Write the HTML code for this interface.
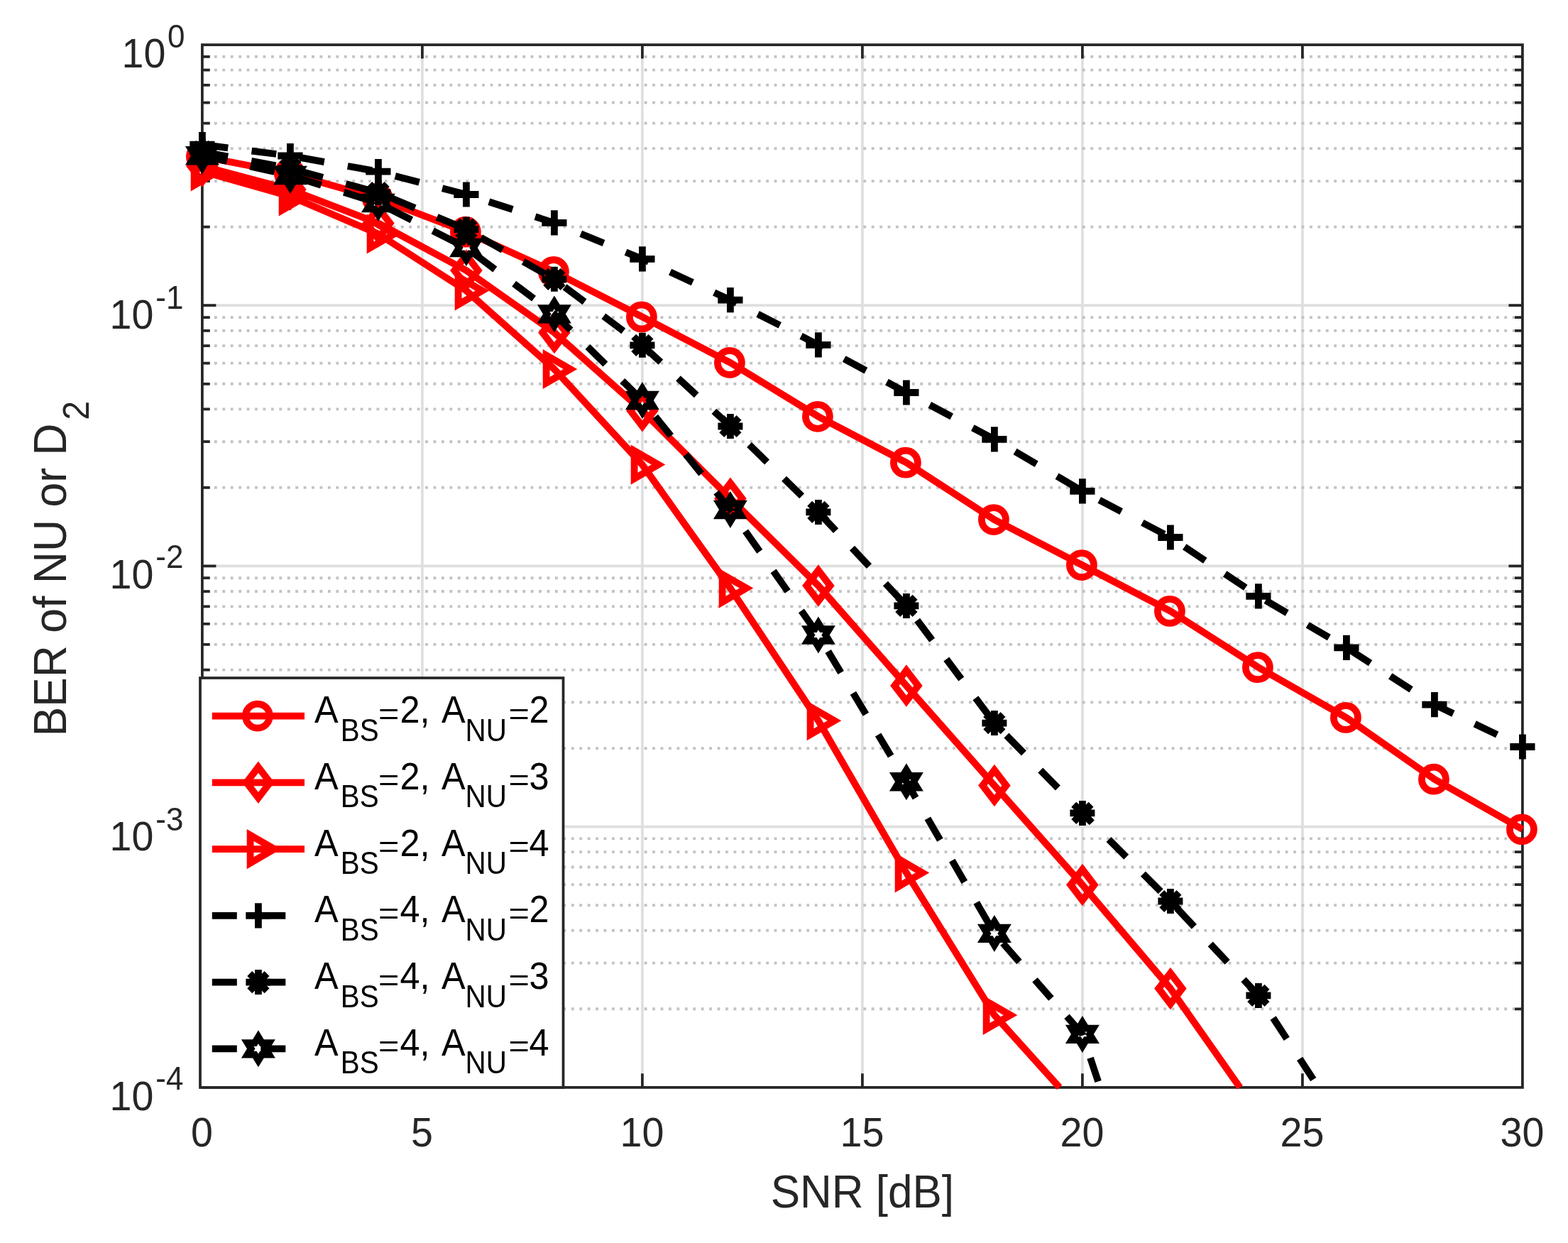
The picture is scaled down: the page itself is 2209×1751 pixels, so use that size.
<!DOCTYPE html><html><head><meta charset="utf-8"><title>BER vs SNR</title><style>html,body{margin:0;padding:0;background:#fff;overflow:hidden}svg{display:block}</style></head><body>
<svg xmlns="http://www.w3.org/2000/svg" width="2209" height="1751" viewBox="0 0 2209 1751" font-family="'Liberation Sans', Arial, Helvetica, sans-serif">
<rect width="2209" height="1751" fill="#fff"/>
<path d="M594.9 63.05V1531.8M904.9 63.05V1531.8M1214.9 63.05V1531.8M1524.9 63.05V1531.8M1834.9 63.05V1531.8M284.9 430.24H2144.9M284.9 797.42H2144.9M284.9 1164.61H2144.9" stroke="#dfdfdf" stroke-width="3.75" fill="none"/>
<path d="M284.9 319.7H2144.9M284.9 255.04H2144.9M284.9 209.17H2144.9M284.9 173.58H2144.9M284.9 144.51H2144.9M284.9 119.93H2144.9M284.9 98.63H2144.9M284.9 79.85H2144.9M284.9 686.89H2144.9M284.9 622.23H2144.9M284.9 576.36H2144.9M284.9 540.77H2144.9M284.9 511.7H2144.9M284.9 487.12H2144.9M284.9 465.82H2144.9M284.9 447.04H2144.9M284.9 1054.08H2144.9M284.9 989.42H2144.9M284.9 943.54H2144.9M284.9 907.96H2144.9M284.9 878.89H2144.9M284.9 854.3H2144.9M284.9 833.01H2144.9M284.9 814.23H2144.9M284.9 1421.27H2144.9M284.9 1356.61H2144.9M284.9 1310.73H2144.9M284.9 1275.15H2144.9M284.9 1246.07H2144.9M284.9 1221.49H2144.9M284.9 1200.2H2144.9M284.9 1181.41H2144.9" stroke="#c2c2c2" stroke-width="3.8" stroke-dasharray="3.8 7.63" stroke-dashoffset="5.83" fill="none"/>
<path d="M284.9 63.05H2144.9V1531.8H284.9Z" stroke="#262626" stroke-width="3.75" fill="none" stroke-linejoin="miter"/>
<path d="M594.9 1531.8V1512.3M594.9 63.05V82.55M904.9 1531.8V1512.3M904.9 63.05V82.55M1214.9 1531.8V1512.3M1214.9 63.05V82.55M1524.9 1531.8V1512.3M1524.9 63.05V82.55M1834.9 1531.8V1512.3M1834.9 63.05V82.55M284.9 430.24H304.4M2144.9 430.24H2125.4M284.9 797.42H304.4M2144.9 797.42H2125.4M284.9 1164.61H304.4M2144.9 1164.61H2125.4M284.9 319.7H295.8M2144.9 319.7H2134M284.9 255.04H295.8M2144.9 255.04H2134M284.9 209.17H295.8M2144.9 209.17H2134M284.9 173.58H295.8M2144.9 173.58H2134M284.9 144.51H295.8M2144.9 144.51H2134M284.9 119.93H295.8M2144.9 119.93H2134M284.9 98.63H295.8M2144.9 98.63H2134M284.9 79.85H295.8M2144.9 79.85H2134M284.9 686.89H295.8M2144.9 686.89H2134M284.9 622.23H295.8M2144.9 622.23H2134M284.9 576.36H295.8M2144.9 576.36H2134M284.9 540.77H295.8M2144.9 540.77H2134M284.9 511.7H295.8M2144.9 511.7H2134M284.9 487.12H295.8M2144.9 487.12H2134M284.9 465.82H295.8M2144.9 465.82H2134M284.9 447.04H295.8M2144.9 447.04H2134M284.9 1054.08H295.8M2144.9 1054.08H2134M284.9 989.42H295.8M2144.9 989.42H2134M284.9 943.54H295.8M2144.9 943.54H2134M284.9 907.96H295.8M2144.9 907.96H2134M284.9 878.89H295.8M2144.9 878.89H2134M284.9 854.3H295.8M2144.9 854.3H2134M284.9 833.01H295.8M2144.9 833.01H2134M284.9 814.23H295.8M2144.9 814.23H2134M284.9 1421.27H295.8M2144.9 1421.27H2134M284.9 1356.61H295.8M2144.9 1356.61H2134M284.9 1310.73H295.8M2144.9 1310.73H2134M284.9 1275.15H295.8M2144.9 1275.15H2134M284.9 1246.07H295.8M2144.9 1246.07H2134M284.9 1221.49H295.8M2144.9 1221.49H2134M284.9 1200.2H295.8M2144.9 1200.2H2134M284.9 1181.41H295.8M2144.9 1181.41H2134" stroke="#262626" stroke-width="3.75" fill="none" stroke-linecap="butt"/>
<text transform="translate(284.4 1615.2) scale(1 1.045)" font-size="55.6" fill="#262626" text-anchor="middle">0</text>
<text transform="translate(594.4 1615.2) scale(1 1.045)" font-size="55.6" fill="#262626" text-anchor="middle">5</text>
<text transform="translate(904.4 1615.2) scale(1 1.045)" font-size="55.6" fill="#262626" text-anchor="middle">10</text>
<text transform="translate(1214.4 1615.2) scale(1 1.045)" font-size="55.6" fill="#262626" text-anchor="middle">15</text>
<text transform="translate(1524.4 1615.2) scale(1 1.045)" font-size="55.6" fill="#262626" text-anchor="middle">20</text>
<text transform="translate(1834.4 1615.2) scale(1 1.045)" font-size="55.6" fill="#262626" text-anchor="middle">25</text>
<text transform="translate(2144.4 1615.2) scale(1 1.045)" font-size="55.6" fill="#262626" text-anchor="middle">30</text>
<text transform="translate(171.5 94.9) scale(1 1.045)" font-size="55.6" fill="#262626">10</text>
<text transform="translate(236.1 66.5) scale(1 1.045)" font-size="44" fill="#262626">0</text>
<text transform="translate(154.55 462.9) scale(1 1.045)" font-size="55.6" fill="#262626">10</text>
<text transform="translate(219.3 434.5) scale(1 1.045)" font-size="44" fill="#262626">-1</text>
<text transform="translate(154.55 828.82) scale(1 1.045)" font-size="55.6" fill="#262626">10</text>
<text transform="translate(219.3 800.42) scale(1 1.045)" font-size="44" fill="#262626">-2</text>
<text transform="translate(154.55 1197.91) scale(1 1.045)" font-size="55.6" fill="#262626">10</text>
<text transform="translate(219.3 1169.51) scale(1 1.045)" font-size="44" fill="#262626">-3</text>
<text transform="translate(154.55 1563.8) scale(1 1.045)" font-size="55.6" fill="#262626">10</text>
<text transform="translate(219.3 1535.4) scale(1 1.045)" font-size="44" fill="#262626">-4</text>
<text transform="translate(1214.9 1700.8) scale(1 1.05)" font-size="62" fill="#262626" text-anchor="middle">SNR [dB]</text>
<g transform="translate(93.3 1037.6) rotate(-90)"><text transform="translate(0 0) scale(1 1.05)" font-size="62.5" fill="#262626">BER of NU or D</text></g>
<g transform="translate(124.9 591.7) rotate(-90)"><text transform="translate(0 0) scale(1 1.05)" font-size="48.5" fill="#262626">2</text></g>
<polyline points="284.9,220.5 408.9,244.5 532.9,279.5 656.9,326.7 780.9,383 904.9,446.4 1028.9,510.9 1152.9,586.8 1276.9,651.7 1400.9,732.1 1524.9,796.1 1648.9,860.9 1772.9,940.2 1896.9,1010.9 2020.9,1097.7 2144.9,1168.3" fill="none" stroke="#ff0000" stroke-width="9.8" stroke-linejoin="round" stroke-linecap="butt"/>
<g><circle cx="283.9" cy="220.5" r="17.0" fill="none" stroke="#ff0000" stroke-width="9.8"/><circle cx="407.9" cy="244.5" r="17.0" fill="none" stroke="#ff0000" stroke-width="9.8"/><circle cx="531.9" cy="279.5" r="17.0" fill="none" stroke="#ff0000" stroke-width="9.8"/><circle cx="655.9" cy="326.7" r="17.0" fill="none" stroke="#ff0000" stroke-width="9.8"/><circle cx="779.9" cy="383" r="17.0" fill="none" stroke="#ff0000" stroke-width="9.8"/><circle cx="903.9" cy="446.4" r="17.0" fill="none" stroke="#ff0000" stroke-width="9.8"/><circle cx="1027.9" cy="510.9" r="17.0" fill="none" stroke="#ff0000" stroke-width="9.8"/><circle cx="1151.9" cy="586.8" r="17.0" fill="none" stroke="#ff0000" stroke-width="9.8"/><circle cx="1275.9" cy="651.7" r="17.0" fill="none" stroke="#ff0000" stroke-width="9.8"/><circle cx="1399.9" cy="732.1" r="17.0" fill="none" stroke="#ff0000" stroke-width="9.8"/><circle cx="1523.9" cy="796.1" r="17.0" fill="none" stroke="#ff0000" stroke-width="9.8"/><circle cx="1647.9" cy="860.9" r="17.0" fill="none" stroke="#ff0000" stroke-width="9.8"/><circle cx="1771.9" cy="940.2" r="17.0" fill="none" stroke="#ff0000" stroke-width="9.8"/><circle cx="1895.9" cy="1010.9" r="17.0" fill="none" stroke="#ff0000" stroke-width="9.8"/><circle cx="2019.9" cy="1097.7" r="17.0" fill="none" stroke="#ff0000" stroke-width="9.8"/><circle cx="2143.9" cy="1168.3" r="17.0" fill="none" stroke="#ff0000" stroke-width="9.8"/></g>
<polyline points="284.9,234 408.9,267 532.9,314.4 656.9,381 780.9,468.5 904.9,578.7 1028.9,702.3 1152.9,825.1 1276.9,966 1400.9,1106.4 1524.9,1246.5 1648.9,1392.5 1746.71,1531.8" fill="none" stroke="#ff0000" stroke-width="9.8" stroke-linejoin="round" stroke-linecap="butt"/>
<g><path d="M284.9 212.3L301.5 234L284.9 255.7L268.3 234Z" fill="none" stroke="#ff0000" stroke-width="9.8" stroke-miterlimit="10"/><path d="M408.9 245.3L425.5 267L408.9 288.7L392.3 267Z" fill="none" stroke="#ff0000" stroke-width="9.8" stroke-miterlimit="10"/><path d="M532.9 292.7L549.5 314.4L532.9 336.1L516.3 314.4Z" fill="none" stroke="#ff0000" stroke-width="9.8" stroke-miterlimit="10"/><path d="M656.9 359.3L673.5 381L656.9 402.7L640.3 381Z" fill="none" stroke="#ff0000" stroke-width="9.8" stroke-miterlimit="10"/><path d="M780.9 446.8L797.5 468.5L780.9 490.2L764.3 468.5Z" fill="none" stroke="#ff0000" stroke-width="9.8" stroke-miterlimit="10"/><path d="M904.9 557L921.5 578.7L904.9 600.4L888.3 578.7Z" fill="none" stroke="#ff0000" stroke-width="9.8" stroke-miterlimit="10"/><path d="M1028.9 680.6L1045.5 702.3L1028.9 724L1012.3 702.3Z" fill="none" stroke="#ff0000" stroke-width="9.8" stroke-miterlimit="10"/><path d="M1152.9 803.4L1169.5 825.1L1152.9 846.8L1136.3 825.1Z" fill="none" stroke="#ff0000" stroke-width="9.8" stroke-miterlimit="10"/><path d="M1276.9 944.3L1293.5 966L1276.9 987.7L1260.3 966Z" fill="none" stroke="#ff0000" stroke-width="9.8" stroke-miterlimit="10"/><path d="M1400.9 1084.7L1417.5 1106.4L1400.9 1128.1L1384.3 1106.4Z" fill="none" stroke="#ff0000" stroke-width="9.8" stroke-miterlimit="10"/><path d="M1524.9 1224.8L1541.5 1246.5L1524.9 1268.2L1508.3 1246.5Z" fill="none" stroke="#ff0000" stroke-width="9.8" stroke-miterlimit="10"/><path d="M1648.9 1370.8L1665.5 1392.5L1648.9 1414.2L1632.3 1392.5Z" fill="none" stroke="#ff0000" stroke-width="9.8" stroke-miterlimit="10"/></g>
<polyline points="284.9,241.4 408.9,276.5 532.9,329.5 656.9,409.5 780.9,520 904.9,654.6 1028.9,828.6 1152.9,1015.2 1276.9,1229.4 1400.9,1430 1492.57,1531.8" fill="none" stroke="#ff0000" stroke-width="9.8" stroke-linejoin="round" stroke-linecap="butt"/>
<g><path d="M307.5 241.4L273.6 221.83L273.6 260.97Z" fill="none" stroke="#ff0000" stroke-width="9.8" stroke-miterlimit="10"/><path d="M431.5 276.5L397.6 256.93L397.6 296.07Z" fill="none" stroke="#ff0000" stroke-width="9.8" stroke-miterlimit="10"/><path d="M555.5 329.5L521.6 309.93L521.6 349.07Z" fill="none" stroke="#ff0000" stroke-width="9.8" stroke-miterlimit="10"/><path d="M679.5 409.5L645.6 389.93L645.6 429.07Z" fill="none" stroke="#ff0000" stroke-width="9.8" stroke-miterlimit="10"/><path d="M803.5 520L769.6 500.43L769.6 539.57Z" fill="none" stroke="#ff0000" stroke-width="9.8" stroke-miterlimit="10"/><path d="M927.5 654.6L893.6 635.03L893.6 674.17Z" fill="none" stroke="#ff0000" stroke-width="9.8" stroke-miterlimit="10"/><path d="M1051.5 828.6L1017.6 809.03L1017.6 848.17Z" fill="none" stroke="#ff0000" stroke-width="9.8" stroke-miterlimit="10"/><path d="M1175.5 1015.2L1141.6 995.63L1141.6 1034.77Z" fill="none" stroke="#ff0000" stroke-width="9.8" stroke-miterlimit="10"/><path d="M1299.5 1229.4L1265.6 1209.83L1265.6 1248.97Z" fill="none" stroke="#ff0000" stroke-width="9.8" stroke-miterlimit="10"/><path d="M1423.5 1430L1389.6 1410.43L1389.6 1449.57Z" fill="none" stroke="#ff0000" stroke-width="9.8" stroke-miterlimit="10"/></g>
<polyline points="284.9,203.7 408.9,219.5 532.9,241.7 656.9,274 780.9,313.9 904.9,364.8 1028.9,422.7 1152.9,485.8 1276.9,553 1400.9,618.8 1524.9,691.9 1648.9,757 1772.9,839.9 1896.9,912.4 2020.9,992.6 2144.9,1052" fill="none" stroke="#000000" stroke-width="9.8" stroke-linejoin="round" stroke-linecap="butt" stroke-dasharray="35.0 33.5" stroke-dashoffset="66.84"/>
<g><path d="M267.3 203.7H302.5M284.9 186.1V221.3" fill="none" stroke="#000000" stroke-width="9.8"/><path d="M391.3 219.5H426.5M408.9 201.9V237.1" fill="none" stroke="#000000" stroke-width="9.8"/><path d="M515.3 241.7H550.5M532.9 224.1V259.3" fill="none" stroke="#000000" stroke-width="9.8"/><path d="M639.3 274H674.5M656.9 256.4V291.6" fill="none" stroke="#000000" stroke-width="9.8"/><path d="M763.3 313.9H798.5M780.9 296.3V331.5" fill="none" stroke="#000000" stroke-width="9.8"/><path d="M887.3 364.8H922.5M904.9 347.2V382.4" fill="none" stroke="#000000" stroke-width="9.8"/><path d="M1011.3 422.7H1046.5M1028.9 405.1V440.3" fill="none" stroke="#000000" stroke-width="9.8"/><path d="M1135.3 485.8H1170.5M1152.9 468.2V503.4" fill="none" stroke="#000000" stroke-width="9.8"/><path d="M1259.3 553H1294.5M1276.9 535.4V570.6" fill="none" stroke="#000000" stroke-width="9.8"/><path d="M1383.3 618.8H1418.5M1400.9 601.2V636.4" fill="none" stroke="#000000" stroke-width="9.8"/><path d="M1507.3 691.9H1542.5M1524.9 674.3V709.5" fill="none" stroke="#000000" stroke-width="9.8"/><path d="M1631.3 757H1666.5M1648.9 739.4V774.6" fill="none" stroke="#000000" stroke-width="9.8"/><path d="M1755.3 839.9H1790.5M1772.9 822.3V857.5" fill="none" stroke="#000000" stroke-width="9.8"/><path d="M1879.3 912.4H1914.5M1896.9 894.8V930" fill="none" stroke="#000000" stroke-width="9.8"/><path d="M2003.3 992.6H2038.5M2020.9 975V1010.2" fill="none" stroke="#000000" stroke-width="9.8"/><path d="M2127.3 1052H2162.5M2144.9 1034.4V1069.6" fill="none" stroke="#000000" stroke-width="9.8"/></g>
<polyline points="284.9,213.6 408.9,237.3 532.9,271.5 656.9,323 780.9,393.3 904.9,486.3 1028.9,600.5 1152.9,721.4 1276.9,853.4 1400.9,1018.6 1524.9,1145.4 1648.9,1269.5 1772.9,1402.4 1857.53,1531.8" fill="none" stroke="#000000" stroke-width="9.8" stroke-linejoin="round" stroke-linecap="butt" stroke-dasharray="35.0 33.5" stroke-dashoffset="66.53"/>
<g><path d="M267.4 213.6H302.4M284.9 196.1V231.1M272.74 201.44L297.06 225.76M272.74 225.76L297.06 201.44" fill="none" stroke="#000000" stroke-width="9.8"/><path d="M391.4 237.3H426.4M408.9 219.8V254.8M396.74 225.14L421.06 249.46M396.74 249.46L421.06 225.14" fill="none" stroke="#000000" stroke-width="9.8"/><path d="M515.4 271.5H550.4M532.9 254V289M520.74 259.34L545.06 283.66M520.74 283.66L545.06 259.34" fill="none" stroke="#000000" stroke-width="9.8"/><path d="M639.4 323H674.4M656.9 305.5V340.5M644.74 310.84L669.06 335.16M644.74 335.16L669.06 310.84" fill="none" stroke="#000000" stroke-width="9.8"/><path d="M763.4 393.3H798.4M780.9 375.8V410.8M768.74 381.14L793.06 405.46M768.74 405.46L793.06 381.14" fill="none" stroke="#000000" stroke-width="9.8"/><path d="M887.4 486.3H922.4M904.9 468.8V503.8M892.74 474.14L917.06 498.46M892.74 498.46L917.06 474.14" fill="none" stroke="#000000" stroke-width="9.8"/><path d="M1011.4 600.5H1046.4M1028.9 583V618M1016.74 588.34L1041.06 612.66M1016.74 612.66L1041.06 588.34" fill="none" stroke="#000000" stroke-width="9.8"/><path d="M1135.4 721.4H1170.4M1152.9 703.9V738.9M1140.74 709.24L1165.06 733.56M1140.74 733.56L1165.06 709.24" fill="none" stroke="#000000" stroke-width="9.8"/><path d="M1259.4 853.4H1294.4M1276.9 835.9V870.9M1264.74 841.24L1289.06 865.56M1264.74 865.56L1289.06 841.24" fill="none" stroke="#000000" stroke-width="9.8"/><path d="M1383.4 1018.6H1418.4M1400.9 1001.1V1036.1M1388.74 1006.44L1413.06 1030.76M1388.74 1030.76L1413.06 1006.44" fill="none" stroke="#000000" stroke-width="9.8"/><path d="M1507.4 1145.4H1542.4M1524.9 1127.9V1162.9M1512.74 1133.24L1537.06 1157.56M1512.74 1157.56L1537.06 1133.24" fill="none" stroke="#000000" stroke-width="9.8"/><path d="M1631.4 1269.5H1666.4M1648.9 1252V1287M1636.74 1257.34L1661.06 1281.66M1636.74 1281.66L1661.06 1257.34" fill="none" stroke="#000000" stroke-width="9.8"/><path d="M1755.4 1402.4H1790.4M1772.9 1384.9V1419.9M1760.74 1390.24L1785.06 1414.56M1760.74 1414.56L1785.06 1390.24" fill="none" stroke="#000000" stroke-width="9.8"/></g>
<polyline points="284.9,219.2 408.9,247 532.9,286 656.9,349 780.9,442.4 904.9,564 1028.9,718 1152.9,894.5 1276.9,1101.3 1400.9,1314.9 1524.9,1456.9 1549.86,1531.8" fill="none" stroke="#000000" stroke-width="9.8" stroke-linejoin="round" stroke-linecap="butt" stroke-dasharray="35.0 33.5" stroke-dashoffset="67.71"/>
<g><path d="M284.9 202.6L279.82 210.9L269.66 210.9L274.74 219.2L269.66 227.5L279.82 227.5L284.9 235.8L289.98 227.5L300.14 227.5L295.06 219.2L300.14 210.9L289.98 210.9Z" fill="none" stroke="#000000" stroke-width="9.8" stroke-miterlimit="10"/><path d="M408.9 230.4L403.82 238.7L393.66 238.7L398.74 247L393.66 255.3L403.82 255.3L408.9 263.6L413.98 255.3L424.14 255.3L419.06 247L424.14 238.7L413.98 238.7Z" fill="none" stroke="#000000" stroke-width="9.8" stroke-miterlimit="10"/><path d="M532.9 269.4L527.82 277.7L517.66 277.7L522.74 286L517.66 294.3L527.82 294.3L532.9 302.6L537.98 294.3L548.14 294.3L543.06 286L548.14 277.7L537.98 277.7Z" fill="none" stroke="#000000" stroke-width="9.8" stroke-miterlimit="10"/><path d="M656.9 332.4L651.82 340.7L641.66 340.7L646.74 349L641.66 357.3L651.82 357.3L656.9 365.6L661.98 357.3L672.14 357.3L667.06 349L672.14 340.7L661.98 340.7Z" fill="none" stroke="#000000" stroke-width="9.8" stroke-miterlimit="10"/><path d="M780.9 425.8L775.82 434.1L765.66 434.1L770.74 442.4L765.66 450.7L775.82 450.7L780.9 459L785.98 450.7L796.14 450.7L791.06 442.4L796.14 434.1L785.98 434.1Z" fill="none" stroke="#000000" stroke-width="9.8" stroke-miterlimit="10"/><path d="M904.9 547.4L899.82 555.7L889.66 555.7L894.74 564L889.66 572.3L899.82 572.3L904.9 580.6L909.98 572.3L920.14 572.3L915.06 564L920.14 555.7L909.98 555.7Z" fill="none" stroke="#000000" stroke-width="9.8" stroke-miterlimit="10"/><path d="M1028.9 701.4L1023.82 709.7L1013.66 709.7L1018.74 718L1013.66 726.3L1023.82 726.3L1028.9 734.6L1033.98 726.3L1044.14 726.3L1039.06 718L1044.14 709.7L1033.98 709.7Z" fill="none" stroke="#000000" stroke-width="9.8" stroke-miterlimit="10"/><path d="M1152.9 877.9L1147.82 886.2L1137.66 886.2L1142.74 894.5L1137.66 902.8L1147.82 902.8L1152.9 911.1L1157.98 902.8L1168.14 902.8L1163.06 894.5L1168.14 886.2L1157.98 886.2Z" fill="none" stroke="#000000" stroke-width="9.8" stroke-miterlimit="10"/><path d="M1276.9 1084.7L1271.82 1093L1261.66 1093L1266.74 1101.3L1261.66 1109.6L1271.82 1109.6L1276.9 1117.9L1281.98 1109.6L1292.14 1109.6L1287.06 1101.3L1292.14 1093L1281.98 1093Z" fill="none" stroke="#000000" stroke-width="9.8" stroke-miterlimit="10"/><path d="M1400.9 1298.3L1395.82 1306.6L1385.66 1306.6L1390.74 1314.9L1385.66 1323.2L1395.82 1323.2L1400.9 1331.5L1405.98 1323.2L1416.14 1323.2L1411.06 1314.9L1416.14 1306.6L1405.98 1306.6Z" fill="none" stroke="#000000" stroke-width="9.8" stroke-miterlimit="10"/><path d="M1524.9 1440.3L1519.82 1448.6L1509.66 1448.6L1514.74 1456.9L1509.66 1465.2L1519.82 1465.2L1524.9 1473.5L1529.98 1465.2L1540.14 1465.2L1535.06 1456.9L1540.14 1448.6L1529.98 1448.6Z" fill="none" stroke="#000000" stroke-width="9.8" stroke-miterlimit="10"/></g>
<rect x="282" y="955" width="511.5" height="576.9" fill="#fff" stroke="#262626" stroke-width="3.75"/>
<path d="M298.8 1008.6H429" stroke="#ff0000" stroke-width="9.8" fill="none"/>
<circle cx="362.9" cy="1008.6" r="17.0" fill="none" stroke="#ff0000" stroke-width="9.8"/>
<text transform="translate(443 1018.1) scale(1 1.06)" font-size="50.4" fill="#000">A</text>
<text transform="translate(479.8 1043.5) scale(1 1.08)" font-size="40.4" fill="#000">BS</text>
<text transform="translate(533 1019.7) scale(1 0.83)" font-size="50.4" fill="#000">=</text>
<text transform="translate(563.6 1018.1) scale(1 1.06)" font-size="50.4" fill="#000">2,</text>
<text transform="translate(622 1018.1) scale(1 1.06)" font-size="50.4" fill="#000">A</text>
<text transform="translate(655.5 1043.5) scale(1 1.08)" font-size="40.4" fill="#000">NU</text>
<text transform="translate(716.4 1019.7) scale(1 0.83)" font-size="50.4" fill="#000">=</text>
<text transform="translate(745.5 1018.1) scale(1 1.06)" font-size="50.4" fill="#000">2</text>
<path d="M298.8 1102.35H429" stroke="#ff0000" stroke-width="9.8" fill="none"/>
<path d="M363.9 1080.65L380.5 1102.35L363.9 1124.05L347.3 1102.35Z" fill="none" stroke="#ff0000" stroke-width="9.8" stroke-miterlimit="10"/>
<text transform="translate(443 1111.85) scale(1 1.06)" font-size="50.4" fill="#000">A</text>
<text transform="translate(479.8 1137.25) scale(1 1.08)" font-size="40.4" fill="#000">BS</text>
<text transform="translate(533 1113.45) scale(1 0.83)" font-size="50.4" fill="#000">=</text>
<text transform="translate(563.6 1111.85) scale(1 1.06)" font-size="50.4" fill="#000">2,</text>
<text transform="translate(622 1111.85) scale(1 1.06)" font-size="50.4" fill="#000">A</text>
<text transform="translate(655.5 1137.25) scale(1 1.08)" font-size="40.4" fill="#000">NU</text>
<text transform="translate(716.4 1113.45) scale(1 0.83)" font-size="50.4" fill="#000">=</text>
<text transform="translate(745.5 1111.85) scale(1 1.06)" font-size="50.4" fill="#000">3</text>
<path d="M298.8 1196.1H429" stroke="#ff0000" stroke-width="9.8" fill="none"/>
<path d="M386.5 1196.1L352.6 1176.53L352.6 1215.67Z" fill="none" stroke="#ff0000" stroke-width="9.8" stroke-miterlimit="10"/>
<text transform="translate(443 1205.6) scale(1 1.06)" font-size="50.4" fill="#000">A</text>
<text transform="translate(479.8 1231) scale(1 1.08)" font-size="40.4" fill="#000">BS</text>
<text transform="translate(533 1207.2) scale(1 0.83)" font-size="50.4" fill="#000">=</text>
<text transform="translate(563.6 1205.6) scale(1 1.06)" font-size="50.4" fill="#000">2,</text>
<text transform="translate(622 1205.6) scale(1 1.06)" font-size="50.4" fill="#000">A</text>
<text transform="translate(655.5 1231) scale(1 1.08)" font-size="40.4" fill="#000">NU</text>
<text transform="translate(716.4 1207.2) scale(1 0.83)" font-size="50.4" fill="#000">=</text>
<text transform="translate(745.5 1205.6) scale(1 1.06)" font-size="50.4" fill="#000">4</text>
<path d="M298.8 1289.85H429" stroke="#000000" stroke-width="9.8" stroke-dasharray="35.0 33.5" fill="none"/>
<path d="M346.3 1289.85H381.5M363.9 1272.25V1307.45" fill="none" stroke="#000000" stroke-width="9.8"/>
<text transform="translate(443 1299.35) scale(1 1.06)" font-size="50.4" fill="#000">A</text>
<text transform="translate(479.8 1324.75) scale(1 1.08)" font-size="40.4" fill="#000">BS</text>
<text transform="translate(533 1300.95) scale(1 0.83)" font-size="50.4" fill="#000">=</text>
<text transform="translate(563.6 1299.35) scale(1 1.06)" font-size="50.4" fill="#000">4,</text>
<text transform="translate(622 1299.35) scale(1 1.06)" font-size="50.4" fill="#000">A</text>
<text transform="translate(655.5 1324.75) scale(1 1.08)" font-size="40.4" fill="#000">NU</text>
<text transform="translate(716.4 1300.95) scale(1 0.83)" font-size="50.4" fill="#000">=</text>
<text transform="translate(745.5 1299.35) scale(1 1.06)" font-size="50.4" fill="#000">2</text>
<path d="M298.8 1383.6H429" stroke="#000000" stroke-width="9.8" stroke-dasharray="35.0 33.5" fill="none"/>
<path d="M346.4 1383.6H381.4M363.9 1366.1V1401.1M351.74 1371.44L376.06 1395.76M351.74 1395.76L376.06 1371.44" fill="none" stroke="#000000" stroke-width="9.8"/>
<text transform="translate(443 1393.1) scale(1 1.06)" font-size="50.4" fill="#000">A</text>
<text transform="translate(479.8 1418.5) scale(1 1.08)" font-size="40.4" fill="#000">BS</text>
<text transform="translate(533 1394.7) scale(1 0.83)" font-size="50.4" fill="#000">=</text>
<text transform="translate(563.6 1393.1) scale(1 1.06)" font-size="50.4" fill="#000">4,</text>
<text transform="translate(622 1393.1) scale(1 1.06)" font-size="50.4" fill="#000">A</text>
<text transform="translate(655.5 1418.5) scale(1 1.08)" font-size="40.4" fill="#000">NU</text>
<text transform="translate(716.4 1394.7) scale(1 0.83)" font-size="50.4" fill="#000">=</text>
<text transform="translate(745.5 1393.1) scale(1 1.06)" font-size="50.4" fill="#000">3</text>
<path d="M298.8 1477.35H429" stroke="#000000" stroke-width="9.8" stroke-dasharray="35.0 33.5" fill="none"/>
<path d="M363.9 1460.75L358.82 1469.05L348.66 1469.05L353.74 1477.35L348.66 1485.65L358.82 1485.65L363.9 1493.95L368.98 1485.65L379.14 1485.65L374.06 1477.35L379.14 1469.05L368.98 1469.05Z" fill="none" stroke="#000000" stroke-width="9.8" stroke-miterlimit="10"/>
<text transform="translate(443 1486.85) scale(1 1.06)" font-size="50.4" fill="#000">A</text>
<text transform="translate(479.8 1512.25) scale(1 1.08)" font-size="40.4" fill="#000">BS</text>
<text transform="translate(533 1488.45) scale(1 0.83)" font-size="50.4" fill="#000">=</text>
<text transform="translate(563.6 1486.85) scale(1 1.06)" font-size="50.4" fill="#000">4,</text>
<text transform="translate(622 1486.85) scale(1 1.06)" font-size="50.4" fill="#000">A</text>
<text transform="translate(655.5 1512.25) scale(1 1.08)" font-size="40.4" fill="#000">NU</text>
<text transform="translate(716.4 1488.45) scale(1 0.83)" font-size="50.4" fill="#000">=</text>
<text transform="translate(745.5 1486.85) scale(1 1.06)" font-size="50.4" fill="#000">4</text>
</svg></body></html>
